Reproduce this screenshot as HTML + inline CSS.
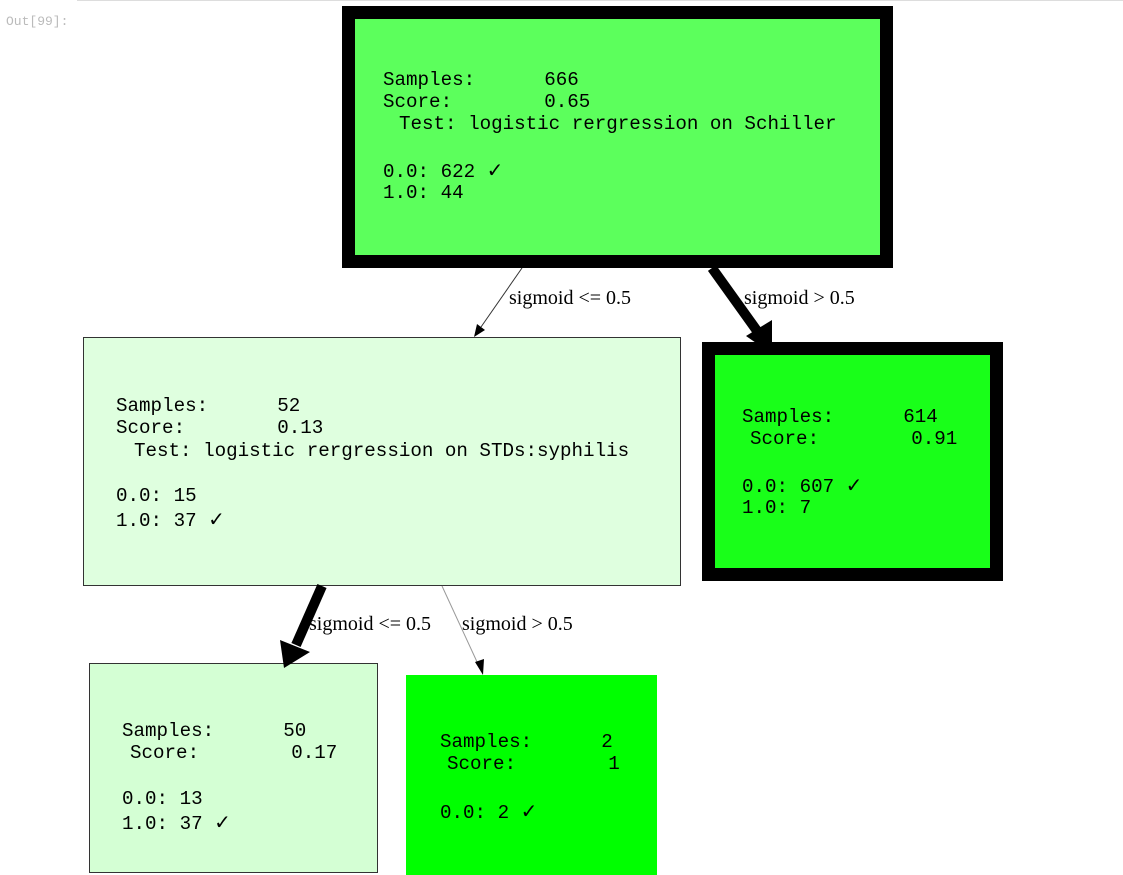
<!DOCTYPE html>
<html><head><meta charset="utf-8"><style>
body{margin:0;width:1123px;height:861px;overflow:hidden;background:#fff;position:relative;font-family:"Liberation Mono",monospace}
.b{position:absolute;box-sizing:border-box}
.t{position:absolute;font-family:"Liberation Mono","DejaVu Sans Mono",monospace;font-size:19.2px;line-height:22px;white-space:pre;color:#000}
.l{position:absolute;font-family:"Liberation Serif",serif;font-size:20px;line-height:22px;white-space:pre;color:#000}
.c{font-family:"DejaVu Sans",sans-serif;font-size:20px}
</style></head><body>
<div style="position:absolute;left:77px;top:0;width:1046px;height:1px;background:#ddd"></div>
<div style="position:absolute;left:6px;top:14px;font-size:13px;color:#bbb;font-family:'Liberation Mono',monospace">Out[99]:</div>

<div class="b" style="left:342px;top:6px;width:551px;height:262px;border:13px solid #000;background:#5cff5c"></div>
<div class="b" style="left:83px;top:337px;width:598px;height:249px;border:1px solid #333;background:#dfffdf"></div>
<div class="b" style="left:702px;top:342px;width:301px;height:239px;border:13px solid #000;background:#19ff19"></div>
<div class="b" style="left:89px;top:663px;width:289px;height:210px;border:1px solid #333;background:#d4ffd4"></div>
<div class="b" style="left:406px;top:675px;width:251px;height:200px;background:#00ff00"></div>

<svg width="1123" height="861" style="position:absolute;left:0;top:0">
<line x1="522" y1="268" x2="481" y2="327" stroke="#333" stroke-width="1"/>
<polygon points="474,337 477,324 485,330" fill="#000"/>
<line x1="712" y1="268" x2="760" y2="335" stroke="#000" stroke-width="10"/>
<polygon points="772,354 746,336 772,320" fill="#000"/>
<line x1="322" y1="586" x2="296" y2="645" stroke="#000" stroke-width="10"/>
<polygon points="284,668 280,640 310,652" fill="#000"/>
<line x1="442" y1="586" x2="478" y2="664" stroke="#999" stroke-width="1"/>
<polygon points="483,675 475,662 484,659" fill="#000"/>
</svg>

<div class="l" style="left:509px;top:287px">sigmoid &lt;= 0.5</div>
<div class="l" style="left:744px;top:287px">sigmoid &gt; 0.5</div>
<div class="l" style="left:309px;top:613px">sigmoid &lt;= 0.5</div>
<div class="l" style="left:462px;top:613px">sigmoid &gt; 0.5</div>

<div class="t" style="left:383px;top:69px">Samples:      666</div>
<div class="t" style="left:383px;top:91px">Score:        0.65</div>
<div class="t" style="left:399px;top:113px">Test: logistic rergression on Schiller</div>
<div class="t" style="left:383px;top:159px">0.0: 622 <span class="c">✓</span></div>
<div class="t" style="left:383px;top:182px">1.0: 44</div>

<div class="t" style="left:116px;top:395px">Samples:      52</div>
<div class="t" style="left:116px;top:417px">Score:        0.13</div>
<div class="t" style="left:134px;top:440px">Test: logistic rergression on STDs:syphilis</div>
<div class="t" style="left:116px;top:485px">0.0: 15</div>
<div class="t" style="left:116px;top:508px">1.0: 37 <span class="c">✓</span></div>

<div class="t" style="left:742px;top:406px">Samples:      614</div>
<div class="t" style="left:750px;top:428px">Score:        0.91</div>
<div class="t" style="left:742px;top:474px">0.0: 607 <span class="c">✓</span></div>
<div class="t" style="left:742px;top:497px">1.0: 7</div>

<div class="t" style="left:122px;top:720px">Samples:      50</div>
<div class="t" style="left:130px;top:742px">Score:        0.17</div>
<div class="t" style="left:122px;top:788px">0.0: 13</div>
<div class="t" style="left:122px;top:811px">1.0: 37 <span class="c">✓</span></div>

<div class="t" style="left:440px;top:731px">Samples:      2</div>
<div class="t" style="left:447px;top:753px">Score:        1</div>
<div class="t" style="left:440px;top:800px">0.0: 2 <span class="c">✓</span></div>
</body></html>
